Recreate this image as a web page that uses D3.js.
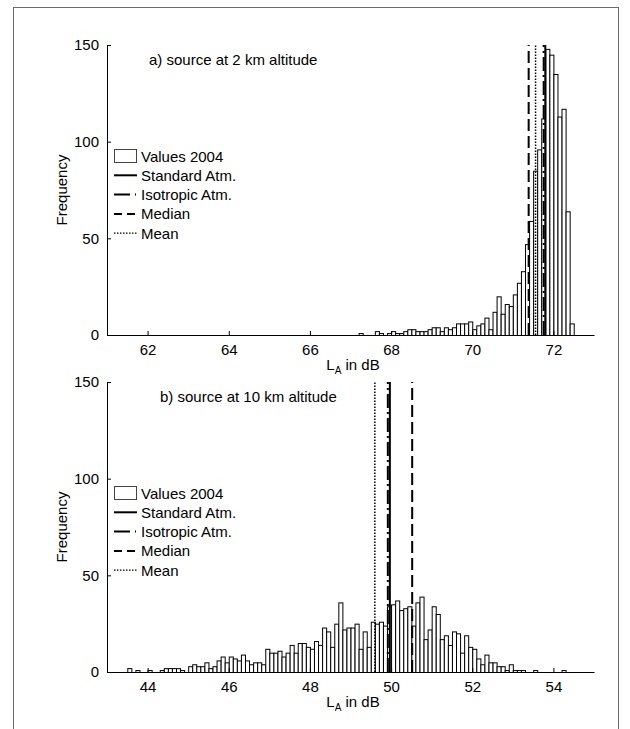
<!DOCTYPE html>
<html><head><meta charset="utf-8">
<script src="https://cdn.jsdelivr.net/npm/d3@7"></script>
<style>
body{margin:0;background:#fff}
svg{display:block}
text{font-family:"Liberation Sans",Arial,Helvetica,sans-serif;fill:#000}
</style>
</head><body>
<svg id="chart" width="630" height="729"></svg>
<script>
// ---- data ----
const binWidth = 0.1;

// panel a) source at 2 km altitude
const titleA = "a) source at 2 km altitude";
const domainA = [61, 73];
const ticksA = [62, 64, 66, 68, 70, 72];
const binStartA = 67.0;
const countsA = [0,0,1,0,0,0,2,1,0,1, 2,1,1,2,3,3,2,2,2,3, 4,4,2,4,3,4,6,6,6,7,
                 3,5,6,9,3,12,20,11,16,15, 21,27,33,47,59,85,96,112,148,145, 135,113,117,64,6];
const statsA = {standard:71.80, isotropic:71.76, median:71.39, mean:71.56};

// panel b) source at 10 km altitude
const titleB = "b) source at 10 km altitude";
const domainB = [43, 55];
const ticksB = [44, 46, 48, 50, 52, 54];
const binStartB = 43.5;
const countsB = [2,0,1,0,0,1,0,0,1,2, 2,2,2,1,0,3,4,3,3,5, 2,3,6,8,5,8,7,6,9,6,
                 4,5,5,4,12,10,10,11,8,10, 14,10,15,15,13,12,16,14,23,21, 13,25,36,22,23,23,25,12,21,13,
                 26,25,26,24,34,35,37,32,33,34, 24,36,39,17,22,34,30,17,19,14, 21,20,10,19,13,12,7,4,9,5,
                 5,3,3,1,4,1,1,1,0,0, 1,0,0,0,0,0,0,1];
const statsB = {standard:49.97, isotropic:49.92, median:50.52, mean:49.60};

const yTicks = [0, 50, 100, 150];
const yMax = 150;
const legendLabels = ["Values 2004", "Standard Atm.", "Isotropic Atm.", "Median", "Mean"];

// ---- drawing ----
const svg = d3.select("#chart");
const W = 630, H = 729;

svg.append("rect").attr("x",13.5).attr("y",7.5).attr("width",605).attr("height",760)
  .attr("fill","none").attr("stroke","#6b6b6b").attr("stroke-width",1);

const left = 107, right = 594;

const lineStyles = {
  standard: {dash:null, w:2},
  isotropic: {dash:"14,4,2,4", w:2},
  median: {dash:"12,5", w:2},
  mean: {dash:"1.5,1.5", w:1.5}
};
const legendDash = {
  standard: null,
  isotropic: "16,5,1,5",
  median: "8,5",
  mean: "1.5,1.5"
};

function panel(top, bottom, domain, ticks, binStart, counts, stats, title, titleX) {
  const x = d3.scaleLinear().domain(domain).range([left, right]);
  const y = d3.scaleLinear().domain([0, yMax]).range([bottom, top]);
  const g = svg.append("g");

  const bins = counts.map((c, i) => ({x0: binStart + i*binWidth, x1: binStart + (i+1)*binWidth, c}));
  g.append("g").selectAll("rect").data(bins.filter(d => d.c > 0)).join("rect")
    .attr("x", d => x(d.x0) + 0.5)
    .attr("width", d => x(d.x1) - x(d.x0))
    .attr("y", d => y(d.c) + 0.5)
    .attr("height", d => y(0) - y(d.c))
    .attr("fill", "#fff").attr("stroke", "#000").attr("stroke-width", 1);

  ["mean","median","isotropic","standard"].forEach(k => {
    const s = lineStyles[k];
    g.append("line")
      .attr("x1", x(stats[k])).attr("x2", x(stats[k]))
      .attr("y1", y(0)).attr("y2", y(yMax))
      .attr("stroke", "#000").attr("stroke-width", s.w)
      .attr("stroke-dasharray", s.dash);
  });

  const xa = g.append("g").attr("transform", `translate(0,${bottom})`)
    .call(d3.axisBottom(x).tickValues(ticks).tickSize(-4).tickSizeOuter(0).tickPadding(9).tickFormat(d3.format("d")));
  const ya = g.append("g").attr("transform", `translate(${left},0)`)
    .call(d3.axisLeft(y).tickValues(yTicks).tickSize(-4).tickSizeOuter(0).tickPadding(8).tickFormat(d3.format("d")));
  [xa, ya].forEach(a => {
    a.selectAll("text").attr("font-size", 15).attr("font-family", '"Liberation Sans",Arial,sans-serif').attr("fill","#000");
    a.selectAll("path,line").attr("stroke", "#000");
  });

  // x label
  const xl = g.append("text").attr("x", 353).attr("y", bottom + 35).attr("text-anchor", "middle").attr("font-size", 15);
  xl.append("tspan").text("L");
  xl.append("tspan").attr("dy", 4).attr("font-size", 10).text("A");
  xl.append("tspan").attr("dy", -4).text(" in dB");

  // y label
  g.append("text").attr("transform", `translate(67,${(top+bottom)/2}) rotate(-90)`)
    .attr("text-anchor", "middle").attr("font-size", 15).text("Frequency");

  // title
  g.append("text").attr("x", titleX).attr("y", top + 20).attr("font-size", 15).text(title);

  // legend
  const lg = g.append("g");
  const keys = [null, "standard", "isotropic", "median", "mean"];
  legendLabels.forEach((lab, i) => {
    const cy = top + 111 + i * 19.3;
    if (i === 0) {
      lg.append("rect").attr("x", 114.5).attr("y", cy - 6.5).attr("width", 22).attr("height", 13)
        .attr("fill", "#fff").attr("stroke", "#444").attr("stroke-width", 1);
    } else {
      const k = keys[i];
      lg.append("line").attr("x1", 114).attr("x2", 137).attr("y1", cy).attr("y2", cy)
        .attr("stroke", "#000").attr("stroke-width", k === "mean" ? 1.2 : 2)
        .attr("stroke-dasharray", legendDash[k]);
    }
    lg.append("text").attr("x", 141).attr("y", cy + 5.5).attr("font-size", 15).text(lab);
  });
}

panel(45, 335, domainA, ticksA, binStartA, countsA, statsA, titleA, 149);
panel(382, 672, domainB, ticksB, binStartB, countsB, statsB, titleB, 160);
</script>
</body></html>
